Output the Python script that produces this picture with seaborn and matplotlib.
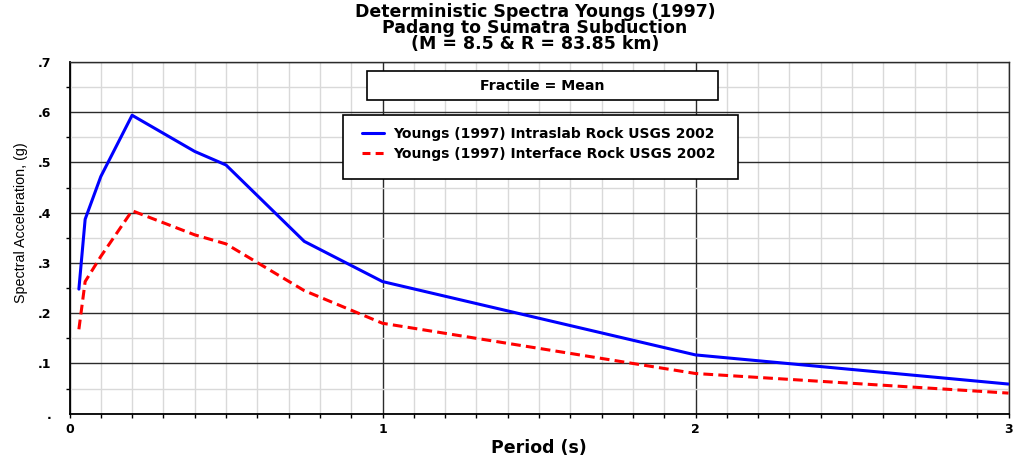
import numpy as np
import pandas as pd
import matplotlib
matplotlib.use("Agg")
import matplotlib.pyplot as plt
import seaborn as sns
from matplotlib.ticker import MultipleLocator, FixedLocator
from matplotlib.lines import Line2D
from matplotlib.patches import Rectangle

# Spectral ordinates (g) versus period (s)
period = [0.03, 0.05, 0.1, 0.2, 0.4, 0.5, 0.75, 1.0, 2.0, 3.0]
intraslab = [0.248, 0.387, 0.472, 0.594, 0.522, 0.495, 0.343, 0.263, 0.117, 0.059]
interface = [0.168, 0.263, 0.313, 0.404, 0.356, 0.338, 0.245, 0.180, 0.080, 0.041]
series_names = ["Youngs (1997) Intraslab Rock USGS 2002",
                "Youngs (1997) Interface Rock USGS 2002"]

x_ticks = [0, 1, 2, 3]
x_tick_labels = ["0", "1", "2", "3"]
y_ticks = [0.0, 0.1, 0.2, 0.3, 0.4, 0.5, 0.6, 0.7]
y_tick_labels = [".", ".1", ".2", ".3", ".4", ".5", ".6", ".7"]

title_lines = ["Deterministic Spectra Youngs (1997)",
               "Padang to Sumatra Subduction",
               "(M = 8.5 & R = 83.85 km)"]
note_text = "Fractile = Mean"
x_label = "Period (s)"
y_label = "Spectral Acceleration, (g)"

df = pd.DataFrame({
    "Period": period * 2,
    "SA": intraslab + interface,
    "Model": [series_names[0]] * len(period) + [series_names[1]] * len(period),
})

sns.set_style("white")
plt.rcParams["font.family"] = ["DejaVu Sans"]
plt.rcParams.update({"text.color": "black", "axes.labelcolor": "black",
                     "xtick.color": "black", "ytick.color": "black"})

W, H = 1018, 462
fig = plt.figure(figsize=(W / 100, H / 100), dpi=100)


def fx(px):
    return px / W


def fy(py):
    return 1 - py / H


ax = fig.add_axes([fx(69.5), fy(413.7), fx(1008.5 - 69.5), (413.7 - 62) / H])

palette = {series_names[0]: "#0000ff", series_names[1]: "#ff0000"}
dash_map = {series_names[0]: "", series_names[1]: (3.2, 1.7)}
sns.lineplot(data=df, x="Period", y="SA", hue="Model", style="Model",
             palette=palette, dashes=dash_map, linewidth=2.2, legend=False,
             ax=ax, zorder=5)

ax.set_xlim(0, 3)
ax.set_ylim(0, 0.7)

# grid: light minor lines, dark major lines
ax.xaxis.set_major_locator(FixedLocator(x_ticks))
ax.xaxis.set_minor_locator(MultipleLocator(0.1))
ax.yaxis.set_major_locator(FixedLocator(y_ticks))
ax.yaxis.set_minor_locator(MultipleLocator(0.05))
ax.grid(which="minor", color="#d9d9d9", linewidth=1.0, zorder=0)
ax.grid(which="major", color="#2b2b2b", linewidth=1.0, zorder=1)
ax.set_axisbelow(True)

ax.set_xticklabels(x_tick_labels, fontsize=9, fontweight="bold")
ax.set_yticklabels(y_tick_labels, fontsize=9, fontweight="bold")
ax.tick_params(axis="both", which="both", direction="out", length=3,
               width=1, color="black", bottom=True, left=True)
ax.tick_params(axis="x", which="major", pad=4)
ax.tick_params(axis="y", which="major", pad=13, length=0)

for side in ["left", "bottom"]:
    ax.spines[side].set_color("black")
    ax.spines[side].set_linewidth(1.3)
for side in ["top", "right"]:
    ax.spines[side].set_color("#2b2b2b")
    ax.spines[side].set_linewidth(1.0)

ax.set_xlabel("")
ax.set_ylabel("")
fig.text(fx(539), fy(448), x_label, ha="center", va="center",
         fontsize=12.5, fontweight="bold")
fig.text(fx(21), fy(223), y_label, rotation=90, ha="center", va="center",
         fontsize=10.3, family=["Liberation Sans", "DejaVu Sans"])

# three-line title
for text, base in zip(title_lines, [17.0, 33.0, 49.0]):
    fig.text(fx(535), fy(base), text, ha="center", va="baseline",
             fontsize=12.5, fontweight="bold")

# fractile box
fig.add_artist(Rectangle((fx(367), fy(100)), fx(718 - 367), (100 - 71) / H,
                         transform=fig.transFigure, facecolor="white",
                         edgecolor="black", linewidth=1.2, zorder=10))
fig.text(fx(542), fy(86), note_text, ha="center", va="center",
         fontsize=10.2, fontweight="bold", zorder=11)

# legend box
fig.add_artist(Rectangle((fx(343), fy(179)), fx(738 - 343), (179 - 115) / H,
                         transform=fig.transFigure, facecolor="white",
                         edgecolor="black", linewidth=1.2, zorder=10))
handles = [Line2D([], [], color="#0000ff", linewidth=2.2),
           Line2D([], [], color="#ff0000", linewidth=2.2, dashes=(2.6, 1.7))]
leg = fig.legend(handles, series_names, loc="upper left",
                 bbox_to_anchor=(fx(362), fy(127)),
                 frameon=False, prop={"weight": "bold", "size": 10},
                 handlelength=1.6, handletextpad=0.62, borderpad=0,
                 labelspacing=0.45, borderaxespad=0)
leg.set_zorder(12)

fig.savefig("out.png", dpi=100)
